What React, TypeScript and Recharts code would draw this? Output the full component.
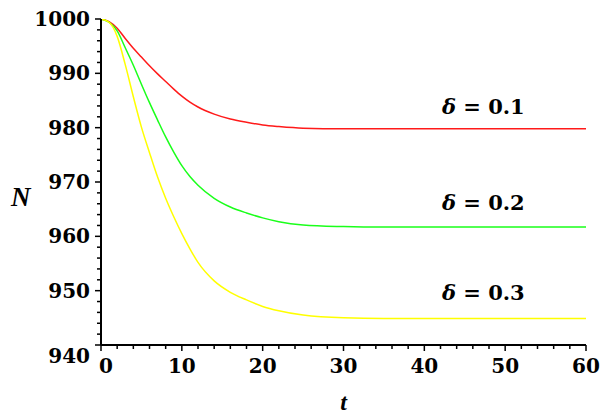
import React from 'react';
import { LineChart, Line, XAxis, YAxis, ReferenceDot } from 'recharts';

// time points (t) and N values for each delta
const tValues = [0, 1, 2, 3, 4, 5, 6, 7, 8, 9, 10, 11, 12, 14, 16, 18, 20, 22, 25, 30, 35, 40, 50, 60];
const nDelta01 = [1000, 999.5, 998.3, 996.4, 994.6, 993.0, 991.4, 989.9, 988.5, 987.1, 985.8, 984.7, 983.8, 982.5, 981.6, 981.0, 980.5, 980.2, 979.9, 979.8, 979.8, 979.8, 979.8, 979.8];
const nDelta02 = [1000, 999.4, 997.8, 994.7, 991.5, 988.0, 984.6, 981.4, 978.3, 975.5, 973.0, 971.0, 969.4, 967.0, 965.4, 964.3, 963.4, 962.7, 962.1, 961.8, 961.7, 961.7, 961.7, 961.7];
const nDelta03 = [1000, 999.4, 996.8, 991.6, 985.7, 980.1, 975.4, 970.9, 967.0, 963.6, 960.5, 957.7, 955.2, 951.8, 949.7, 948.3, 947.1, 946.3, 945.5, 945.0, 944.9, 944.9, 944.9, 944.9];

const xTicks = [0, 2, 4, 6, 8, 10, 12, 14, 16, 18, 20, 22, 24, 26, 28, 30, 32, 34, 36, 38, 40, 42, 44, 46, 48, 50, 52, 54, 56, 58, 60];
const yTicks = [940, 942, 944, 946, 948, 950, 952, 954, 956, 958, 960, 962, 964, 966, 968, 970, 972, 974, 976, 978, 980, 982, 984, 986, 988, 990, 992, 994, 996, 998, 1000];

const labels = [
    { t: 47.3, n: 983.8, text: '0.1' },
    { t: 47.3, n: 966.1, text: '0.2' },
    { t: 47.3, n: 949.6, text: '0.3' },
];

const data = tValues.map((t, i) => ({
    t,
    d1: nDelta01[i],
    d2: nDelta02[i],
    d3: nDelta03[i],
}));

const FONT = '"DejaVu Serif", serif';

const XTick = ({ x, y, payload }: any) => {
    const major = payload.value % 10 === 0;
    return (
        <g>
            <line x1={x} y1={y} x2={x} y2={y + (major ? 6 : 4)} stroke="#000" strokeWidth={1.5} />
            {major && (
                <text x={x + (payload.value === 0 ? 5 : 0)} y={y + 28} textAnchor="middle" fontFamily={FONT} fontWeight="bold" fontSize={20} fill="#000">
                    {payload.value}
                </text>
            )}
        </g>
    );
};

const YTick = ({ x, y, payload }: any) => {
    const major = payload.value % 10 === 0;
    return (
        <g>
            <line x1={x} y1={y} x2={x - (major ? 6 : 4)} y2={y} stroke="#000" strokeWidth={1.5} />
            {major && (
                <text x={x - 11} y={y + 7 + (payload.value === 940 ? 11 : 0)} textAnchor="end" fontFamily={FONT} fontWeight="bold" fontSize={20} fill="#000">
                    {payload.value}
                </text>
            )}
        </g>
    );
};

const DeltaLabel = ({ viewBox, text }: any) => (
    <text x={viewBox.x + viewBox.width / 2} y={viewBox.y + viewBox.height / 2 + 7} textAnchor="middle" fontFamily={FONT} fontWeight="bold" fontSize={21} fill="#000">
        <tspan fontStyle="italic">δ</tspan> = {text}
    </text>
);

export default function App() {
    return (
        <div style={{ position: 'absolute', left: 0, top: 0, background: '#fff' }}>
            <LineChart width={601} height={414} data={data} margin={{ top: 19, right: 15, left: 0, bottom: 0 }}>
                <XAxis
                    dataKey="t"
                    type="number"
                    domain={[0, 60]}
                    ticks={xTicks}
                    interval={0}
                    height={69}
                    tickSize={0}
                    tickMargin={0}
                    tickLine={false}
                    axisLine={{ stroke: '#000', strokeWidth: 2 }}
                    tick={<XTick />}
                    label={{ value: 't', position: 'insideBottom', offset: 4, fontFamily: '"Liberation Serif", serif', fontStyle: 'italic', fontWeight: 'bold', fontSize: 24, fill: '#000' }}
                />
                <YAxis
                    type="number"
                    domain={[940, 1000]}
                    ticks={yTicks}
                    interval={0}
                    width={101}
                    tickSize={0}
                    tickMargin={0}
                    tickLine={false}
                    allowDataOverflow
                    axisLine={{ stroke: '#000', strokeWidth: 2 }}
                    tick={<YTick />}
                    label={{ value: 'N', position: 'insideLeft', offset: 11, dy: 14, fontFamily: '"Liberation Serif", serif', fontStyle: 'italic', fontWeight: 'bold', fontSize: 27, fill: '#000' }}
                />
                <Line type="monotone" dataKey="d1" stroke="#ff1a1a" strokeWidth={1.5} dot={false} isAnimationActive={false} />
                <Line type="monotone" dataKey="d2" stroke="#1aff1a" strokeWidth={1.5} dot={false} isAnimationActive={false} />
                <Line type="monotone" dataKey="d3" stroke="#ffff00" strokeWidth={1.5} dot={false} isAnimationActive={false} />
                {labels.map((l) => (
                    <ReferenceDot key={l.text} x={l.t} y={l.n} r={0} fill="none" stroke="none" label={<DeltaLabel text={l.text} />} />
                ))}
            </LineChart>
        </div>
    );
}
